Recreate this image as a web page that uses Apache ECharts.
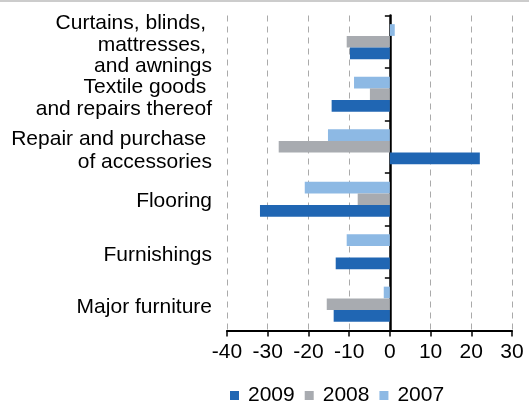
<!DOCTYPE html>
<html><head><meta charset="utf-8">
<script src="https://cdn.jsdelivr.net/npm/echarts@6/dist/echarts.min.js"></script>
<style>html,body{margin:0;padding:0;background:#fff}#c{width:529px;height:404px}</style>
</head><body><div id="c"></div>
<script>
var categories = ["Curtains, blinds, \nmattresses, \nand awnings", "Textile goods \nand repairs thereof", "Repair and purchase \nof accessories", "Flooring", "Furnishings", "Major furniture"];
var s2009 = [-9.8, -14.3, 22.1, -31.9, -13.3, -13.8];
var s2008 = [-10.6, -4.9, -27.3, -7.9, 0, -15.5];
var s2007 = [1.2, -8.8, -15.2, -20.9, -10.6, -1.5];
var xTicks = {min: -40, max: 30, interval: 10};

// label layout tweaks (style only): line spacing and downward nudge per label
var labelLineHeights = [21.5, 22.5, 23.5, 21, 21, 21];
var labelNudge = [6, 8, 8, 4, 7, 6];

var font = "Liberation Sans, Arial, sans-serif";
var rich = {};
labelLineHeights.forEach(function (lh, i) {
  rich['t' + i] = {fontFamily: font, fontSize: 21, color: '#000', lineHeight: lh, align: 'right'};
  rich['s' + i] = {fontSize: 1, lineHeight: labelNudge[i], align: 'right'};
});

var chart = echarts.init(document.getElementById('c'));
chart.setOption({
  animation: false,
  graphic: [{type: 'line', shape: {x1: 0, y1: 1, x2: 529, y2: 1}, style: {stroke: '#bbbbbb', lineWidth: 1.5}}],
  grid: {left: 227, right: 17, top: 15.5, bottom: 73.5},
  legend: {
    top: 385, left: 230, padding: 0, itemWidth: 9, itemHeight: 9, itemGap: 10,
    icon: 'rect',
    data: ['2009', '2008', '2007'],
    textStyle: {fontFamily: font, fontSize: 21, lineHeight: 21, color: '#000', padding: [0, 0, 0, 4]}
  },
  xAxis: {
    type: 'value', min: xTicks.min, max: xTicks.max, interval: xTicks.interval,
    axisLine: {show: true, onZero: false, lineStyle: {color: '#000', width: 2}},
    axisTick: {show: true, length: 6, lineStyle: {color: '#000', width: 1.5}},
    axisLabel: {fontFamily: font, fontSize: 21, color: '#000', margin: 11},
    splitLine: {show: true, lineStyle: {color: '#aaaaaa', type: [6, 5], width: 1}}
  },
  yAxis: {
    type: 'category', data: categories, inverse: true,
    axisLine: {show: true, onZero: true, lineStyle: {color: '#000', width: 2.5}},
    axisTick: {show: true, length: 5, lineStyle: {color: '#000', width: 1.5}},
    axisLabel: {
      interval: 0, margin: 15, align: 'right', rich: rich,
      formatter: function (value, index) {
        var lines = value.split('\n').map(function (l) { return '{t' + index + '|' + l + '}'; });
        return '{s' + index + '| }\n' + lines.join('\n');
      }
    }
  },
  series: [
    {name: '2007', type: 'bar', data: s2007, barGap: '0%', barCategoryGap: '33%', itemStyle: {color: '#8db9e4'}},
    {name: '2008', type: 'bar', data: s2008, barGap: '0%', barCategoryGap: '33%', itemStyle: {color: '#a8abb0'}},
    {name: '2009', type: 'bar', data: s2009, barGap: '0%', barCategoryGap: '33%', itemStyle: {color: '#2066b3'}}
  ]
});
</script></body></html>
